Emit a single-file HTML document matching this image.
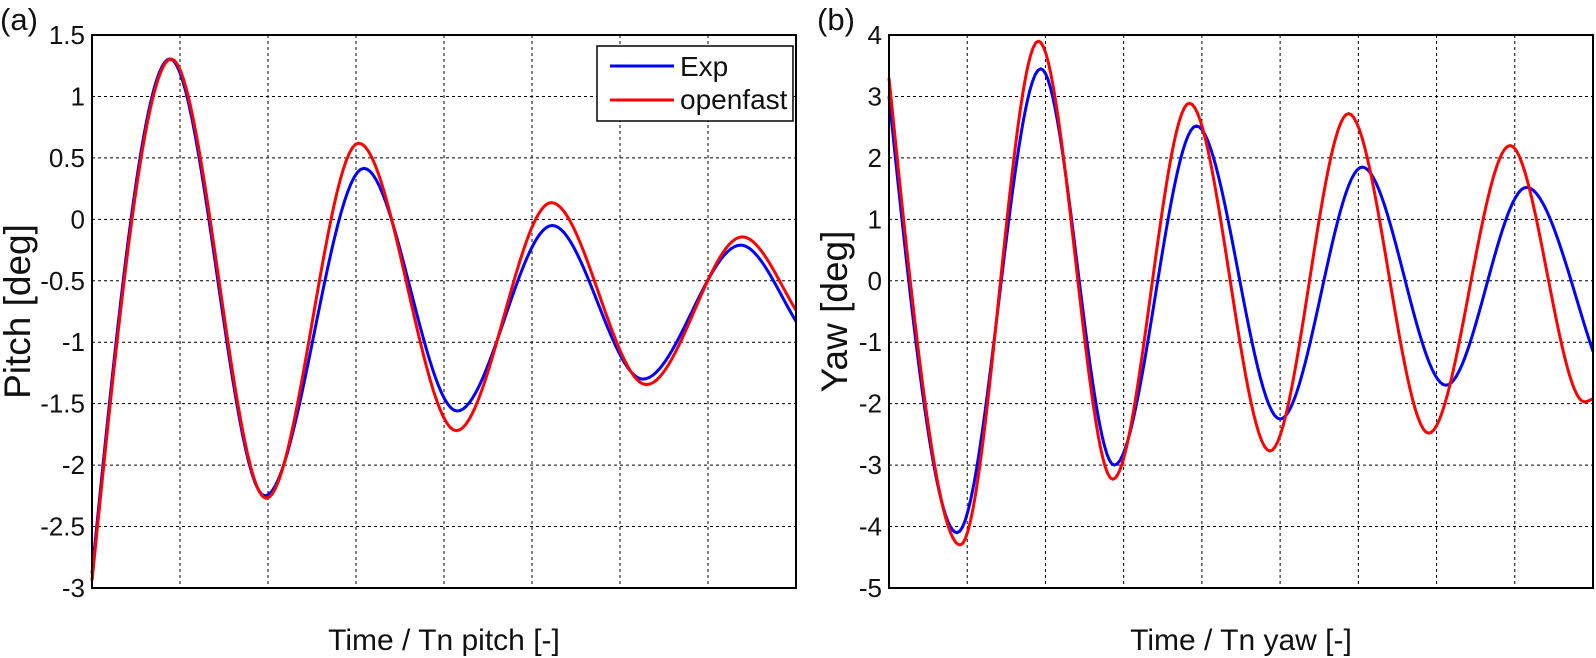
<!DOCTYPE html>
<html><head><meta charset="utf-8"><style>
body{margin:0;background:#fff;}
svg{display:block;font-family:"Liberation Sans",Arial,sans-serif;}
</style></head><body>
<svg id="chart" width="1596" height="658" viewBox="0 0 1596 658" xmlns="http://www.w3.org/2000/svg"></svg>
<script>
// Panel (a) pitch data: x in grid units (0..8)
const pitchExpX = [0, 0.885, 1.965, 3.09, 4.15, 5.23, 6.26, 7.37, 8];
const pitchExpY = [-2.88, 1.305, -2.25, 0.415, -1.56, -0.05, -1.3, -0.21, -0.83];
const pitchOfX = [0, 0.9, 1.98, 3.03, 4.14, 5.22, 6.3, 7.39, 8];
const pitchOfY = [-2.94, 1.305, -2.27, 0.62, -1.72, 0.136, -1.345, -0.143, -0.74];
const pitchTicks = [1.5, 1, 0.5, 0, -0.5, -1, -1.5, -2, -2.5, -3];
// Panel (b) yaw data: x in grid units (0..9)
const yawExpX = [0, 0.87, 1.94, 2.88, 3.93, 5.0, 6.05, 7.12, 8.15, 9];
const yawExpY = [3.0, -4.1, 3.45, -3.0, 2.52, -2.25, 1.85, -1.7, 1.52, -1.15];
const yawOfX = [0, 0.91, 1.91, 2.86, 3.84, 4.87, 5.875, 6.9, 7.94, 8.89, 9];
const yawOfY = [3.3, -4.3, 3.9, -3.23, 2.89, -2.77, 2.72, -2.48, 2.2, -1.97, -1.92];
const yawTicks = [4, 3, 2, 1, 0, -1, -2, -3, -4, -5];

const NS = "http://www.w3.org/2000/svg";
const svg = document.getElementById('chart');
function mk(tag, attrs, parent){
  const e = document.createElementNS(NS, tag);
  for (const k in attrs) e.setAttribute(k, attrs[k]);
  (parent||svg).appendChild(e);
  return e;
}
function pathFrom(xs, ys, sx, sy){
  const n = xs.length;
  const m = [];
  for (let i=0;i<n;i++){
    if (i===0) m.push(1.5*(ys[1]-ys[0])/(xs[1]-xs[0]));
    else if (i===n-1) m.push(1.2*(ys[n-1]-ys[n-2])/(xs[n-1]-xs[n-2]));
    else m.push(0);
  }
  let d = "M" + sx(xs[0]).toFixed(2) + "," + sy(ys[0]).toFixed(2);
  for (let i=0;i<n-1;i++){
    const h = xs[i+1]-xs[i];
    for (let k=1;k<=30;k++){
      const t = k/30, t2=t*t, t3=t2*t;
      const y = (2*t3-3*t2+1)*ys[i] + (t3-2*t2+t)*h*m[i] + (-2*t3+3*t2)*ys[i+1] + (t3-t2)*h*m[i+1];
      d += "L" + sx(xs[i]+t*h).toFixed(2) + "," + sy(y).toFixed(2);
    }
  }
  return d;
}
function panel(o){
  const g = mk('g', {});
  
  
  const sx = v => o.L + (o.R-o.L)*v/o.nx;
  const sy = v => o.T + (o.B-o.T)*(o.ymax-v)/(o.ymax-o.ymin);
  const grid = mk('g', {stroke:'#000','stroke-width':1,'stroke-dasharray':'3,3'}, g);
  
  
  for (let i=1;i<o.nx;i++){
    const l = mk('line', {x1:sx(i), x2:sx(i), y1:o.T, y2:o.B}, grid);
    
    
  }
  o.ticks.forEach(v=>{
    if (v!==o.ymax && v!==o.ymin){
      const l = mk('line', {x1:o.L, x2:o.R, y1:sy(v), y2:sy(v)}, grid);
      
      
    }
    const t = mk('text', {x:o.L-7, y:sy(v)+9, 'text-anchor':'end', 'font-size':26, fill:'#111'}, g);
    t.textContent = String(v);
    
    
  });
  const s1 = mk('path', {d:pathFrom(o.ex, o.ey, sx, sy), fill:'none', stroke:'#0000ff', 'stroke-width':3, 'stroke-linejoin':'round'}, g);
  
  
  const s2 = mk('path', {d:pathFrom(o.ox, o.oy, sx, sy), fill:'none', stroke:'#ff0000', 'stroke-width':3, 'stroke-linejoin':'round'}, g);
  
  
  const fr = mk('rect', {x:o.L, y:o.T, width:o.R-o.L, height:o.B-o.T, fill:'none', stroke:'#000', 'stroke-width':2}, g);
  
  
  const xl = mk('text', {x:(o.L+o.R)/2, y:650, 'text-anchor':'middle', 'font-size':30, fill:'#111'}, g);
  xl.textContent = o.xlabel;
  
  
  const yl = mk('text', {x:0, y:0, 'text-anchor':'middle', 'font-size':37, fill:'#111', transform:'translate('+o.ylx+','+((o.T+o.B)/2)+') rotate(-90)'}, g);
  yl.textContent = o.ylabel;
  
  
  const pl = mk('text', {x:o.plx, y:30, 'font-size':31, fill:'#111'}, g);
  pl.textContent = o.panel;
  
  
}
panel({name:'pitch-panel', L:92, R:796, T:35, B:588, nx:8, ymin:-3, ymax:1.5, ticks:pitchTicks,
  ex:pitchExpX, ey:pitchExpY, ox:pitchOfX, oy:pitchOfY, xlabel:'Time / Tn pitch [-]', ylabel:'Pitch [deg]', ylx:30, panel:'(a)', plx:0});
panel({name:'yaw-panel', L:889, R:1593, T:35, B:588, nx:9, ymin:-5, ymax:4, ticks:yawTicks,
  ex:yawExpX, ey:yawExpY, ox:yawOfX, oy:yawOfY, xlabel:'Time / Tn yaw [-]', ylabel:'Yaw [deg]', ylx:847, panel:'(b)', plx:817});

// legend
const lg = mk('g', {});


mk('rect', {x:597, y:46, width:196, height:75, fill:'#fff', stroke:'#000', 'stroke-width':1.5}, lg);
const l1 = mk('line', {x1:610, x2:674, y1:66, y2:66, stroke:'#0000ff', 'stroke-width':3}, lg);


const t1 = mk('text', {x:680, y:76, 'font-size':28, fill:'#111'}, lg);
t1.textContent = 'Exp';


const l2 = mk('line', {x1:610, x2:674, y1:100, y2:100, stroke:'#ff0000', 'stroke-width':3}, lg);


const t2 = mk('text', {x:680, y:109, 'font-size':28, fill:'#111'}, lg);
t2.textContent = 'openfast';


</script>
</body></html>
